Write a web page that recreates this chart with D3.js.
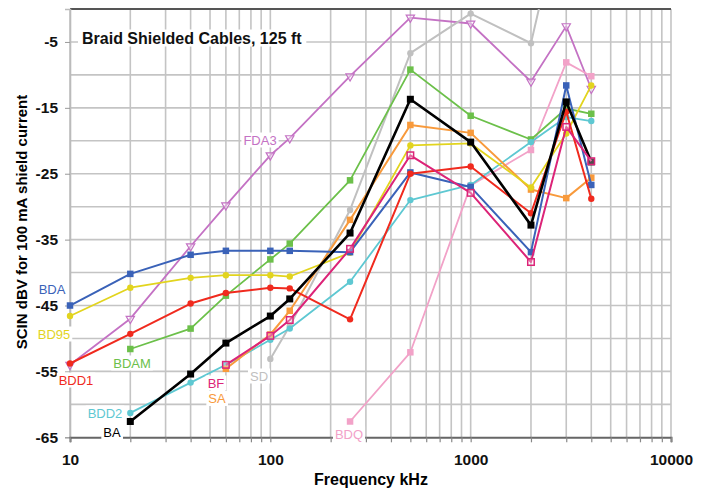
<!DOCTYPE html>
<html><head><meta charset="utf-8">
<script src="https://cdn.jsdelivr.net/npm/d3@7"></script>
<style>body{margin:0;background:#fff}svg{display:block}text{font-family:"Liberation Sans",Arial,sans-serif}</style>
</head><body>
<svg id="c" width="709" height="490"></svg>
<script>
const freqs = [10, 20, 40, 60, 100, 125, 250, 500, 1000, 2000, 3000, 4000];
const yTicks = [-5, -15, -25, -35, -45, -55, -65];
const xTicks = [10, 100, 1000, 10000];
const chartTitle = "Braid Shielded Cables, 125 ft";
const xTitle = "Frequency kHz";
const yTitle = "SCIN dBV for 100 mA shield current";

// values per series, aligned with freqs (null = not measured)
const FDA3 = [-54, -47.0, -36.0, -29.8, -22.2, -19.6, -10.2, -1.3, -2.2, -11.0, -2.6, -12.1];
const SD   = [null, null, null, null, -53.1, -48.1, -30.5, -6.7, -0.7, -5.2, 18, null];
const BDQ  = [null, null, null, null, null, null, -62.6, -52.1, -26.8, -21.4, -8.1, -10.2];
const BDAM = [null, -51.6, -48.5, -43.5, -38.0, -35.6, -26.0, -9.2, -16.2, -19.8, -15.1, -15.9];
const BDD2 = [null, -61.3, -56.7, -54.0, -50.2, -48.5, -41.4, -29.0, -26.7, -20.2, -16.4, -17.0];
const SA   = [null, null, null, -54.6, -49.4, -45.8, -32.0, -17.6, -18.8, -27.4, -28.7, -25.6];
const BD95 = [-46.6, -42.3, -40.8, -40.4, -40.4, -40.6, -37.0, -20.7, -20.4, -27.1, -18.9, -11.6];
const BDA  = [-45.0, -40.2, -37.3, -36.7, -36.7, -36.7, -36.9, -24.8, -27.0, -36.9, -11.6, -26.7];
const BDD1 = [-53.8, -49.3, -44.7, -43.1, -42.3, -42.4, -47.1, -25.0, -23.9, -31.0, -15.6, -28.8];
const BA   = [null, -62.6, -55.4, -50.7, -46.6, -44.0, -34.0, -13.7, -20.2, -32.8, -14.1, -23.2];
const BF   = [null, null, null, -54.0, -49.6, -47.2, -36.4, -22.2, -27.9, -38.4, -17.9, -23.1];

const series = [
  {name:"FDA3", v:FDA3, color:"#c472c4", marker:"tri", w:1.8},
  {name:"SD",   v:SD,   color:"#c0c0c0", marker:"circle", w:2},
  {name:"BDQ",  v:BDQ,  color:"#f2a2c8", marker:"square", w:1.8},
  {name:"BDAM", v:BDAM, color:"#6cc04a", marker:"square", w:1.8},
  {name:"BDD2", v:BDD2, color:"#5ec8d2", marker:"circle", w:1.8},
  {name:"SA",   v:SA,   color:"#f89a3c", marker:"square", w:2},
  {name:"BD95", v:BD95, color:"#e2d41e", marker:"circle", w:1.8},
  {name:"BDA",  v:BDA,  color:"#3a62b8", marker:"square", w:2},
  {name:"BDD1", v:BDD1, color:"#f02a1e", marker:"circle", w:2},
  {name:"BA",   v:BA,   color:"#000000", marker:"square", w:2.6},
  {name:"BF",   v:BF,   color:"#dc2478", marker:"osquare", w:2}
];

const labels = [
  {t:"FDA3", s:"FDA3", x:260, y:140},
  {t:"BDA",  s:"BDA",  x:52,  y:289.5},
  {t:"BD95", s:"BD95", x:54,  y:334},
  {t:"BDAM", s:"BDAM", x:132, y:363},
  {t:"BDD1", s:"BDD1", x:76,  y:380},
  {t:"BF",   s:"BF",   x:216, y:383},
  {t:"SA",   s:"SA",   x:217, y:398.5},
  {t:"SD",   s:"SD",   x:259, y:376},
  {t:"BDD2", s:"BDD2", x:105, y:413},
  {t:"BA",   s:"BA",   x:112, y:432},
  {t:"BDQ",  s:"BDQ",  x:349, y:434}
];

const svg = d3.select("#c");
svg.append("rect").attr("width",709).attr("height",490).attr("fill","#fff");

const x = d3.scaleLog().domain([10, 10000]).range([70, 671]);
const y = d3.scaleLinear().domain([-65, 0]).range([437.3, 9]);

// grid
const minor = [];
[10,100,1000].forEach(d => { for (let k=1;k<=9;k++) minor.push(d*k); });
minor.push(10000);
const g = svg.append("g");
g.selectAll("line.v").data(minor).join("line")
  .attr("x1", d=>x(d)).attr("x2", d=>x(d)).attr("y1", y(0)).attr("y2", y(-65))
  .attr("stroke", "#c4c4c4").attr("stroke-width", 1.6);
g.selectAll("line.h").data(d3.range(-60, 0, 5)).join("line")
  .attr("x1", x(10)).attr("x2", x(10000)).attr("y1", d=>y(d)).attr("y2", d=>y(d))
  .attr("stroke", "#c4c4c4").attr("stroke-width", 1.6);
// frame
svg.append("line").attr("x1",x(10)).attr("x2",x(10000)).attr("y1",y(0)).attr("y2",y(0))
  .attr("stroke","#555").attr("stroke-width",2);

// axes
const yAxis = svg.append("g").attr("transform",`translate(${x(10)},0)`)
  .call(d3.axisLeft(y).tickValues(yTicks).tickSize(5).tickPadding(7).tickFormat(d=>d));
yAxis.select(".domain").attr("stroke","#bbb").attr("stroke-width",1.6);
yAxis.selectAll(".tick line").attr("stroke","#999");
yAxis.selectAll("text").attr("font-size",15.5).attr("font-weight","bold").attr("fill","#111");

const xMinor = svg.append("g").attr("transform",`translate(0,${y(-65)})`)
  .call(d3.axisBottom(x).tickValues(minor).tickSize(5).tickFormat(""));
xMinor.select(".domain").attr("stroke","#666").attr("stroke-width",2);
xMinor.selectAll(".tick line").attr("stroke","#888").attr("stroke-width",1.2);
const xAxis = svg.append("g").attr("transform",`translate(0,${y(-65)})`)
  .call(d3.axisBottom(x).tickValues(xTicks).tickSize(0).tickPadding(17).tickFormat(d3.format("d")));
xAxis.select(".domain").remove();
xAxis.selectAll("text").attr("font-size",15.5).attr("font-weight","bold").attr("fill","#111");

// axis titles
svg.append("text").attr("x", 371).attr("y", 485).attr("text-anchor","middle")
  .attr("font-size",16).attr("font-weight","bold").text(xTitle);
svg.append("text").attr("transform","translate(27,222) rotate(-90)").attr("text-anchor","middle")
  .attr("font-size",15).attr("font-weight","bold").text(yTitle);

// text with white box
function boxedText(parent, txt, px, py, opts) {
  const gg = parent.append("g");
  const r = gg.append("rect").attr("fill","#fff");
  const t = gg.append("text").attr("x",px).attr("y",py).attr("text-anchor",opts.anchor||"middle")
    .attr("dominant-baseline","central").attr("font-size",opts.size).attr("font-weight",opts.weight||"normal")
    .attr("fill",opts.color).text(txt);
  const b = t.node().getBBox();
  r.attr("x",b.x-opts.pad).attr("y",b.y).attr("width",b.width+2*opts.pad).attr("height",b.height);
  return gg;
}
boxedText(svg, chartTitle, 82, 38, {anchor:"start", size:16, weight:"bold", color:"#111", pad:4});

// lines
svg.append("clipPath").attr("id","pc").append("rect")
  .attr("x", x(10)-6).attr("y", y(0)).attr("width", x(10000)-x(10)+12).attr("height", y(-65)-y(0)+6);
const plot = svg.append("g").attr("clip-path","url(#pc)");
const line = d3.line().defined(d=>d.v!==null).x(d=>x(d.f)).y(d=>y(d.v));

series.forEach(s => {
  const pts = freqs.map((f,i)=>({f, v:s.v[i]}));
  const sg = plot.append("g");
  sg.append("path").datum(pts).attr("d", line).attr("fill","none")
    .attr("stroke", s.color).attr("stroke-width", s.w).attr("stroke-linejoin","round");
  const p = pts.filter(d=>d.v!==null);
  if (s.marker === "square" || s.marker === "osquare") {
    const sz = s.name==="BA" ? 7 : 6.5;
    sg.selectAll("rect").data(p).join("rect")
      .attr("x", d=>x(d.f)-sz/2).attr("y", d=>y(d.v)-sz/2).attr("width", sz).attr("height", sz)
      .attr("fill", s.marker==="osquare" ? "#fff" : s.color)
      .attr("fill-opacity", s.marker==="osquare" ? 0.3 : 1)
      .attr("stroke", s.color).attr("stroke-width", s.marker==="osquare"?1.5:0);
  } else if (s.marker === "circle") {
    sg.selectAll("circle").data(p).join("circle")
      .attr("cx", d=>x(d.f)).attr("cy", d=>y(d.v)).attr("r", 3.2).attr("fill", s.color);
  } else if (s.marker === "tri") {
    const tri = d3.symbol().type(d3.symbolTriangle).size(30);
    sg.selectAll("path.m").data(p).join("path").attr("class","m")
      .attr("d", tri).attr("transform", d=>`translate(${x(d.f)},${y(d.v)}) rotate(180)`)
      .attr("fill","#fff").attr("fill-opacity",0.4).attr("stroke", s.color).attr("stroke-width",1.2);
  }
});

// series labels
const colorOf = {}; series.forEach(s=>colorOf[s.name]=s.color);
labels.forEach(l => {
  boxedText(svg, l.t, l.x, l.y, {size:13, color: l.s==="BA" ? "#000" : colorOf[l.s], pad:2});
});
</script>
</body></html>
